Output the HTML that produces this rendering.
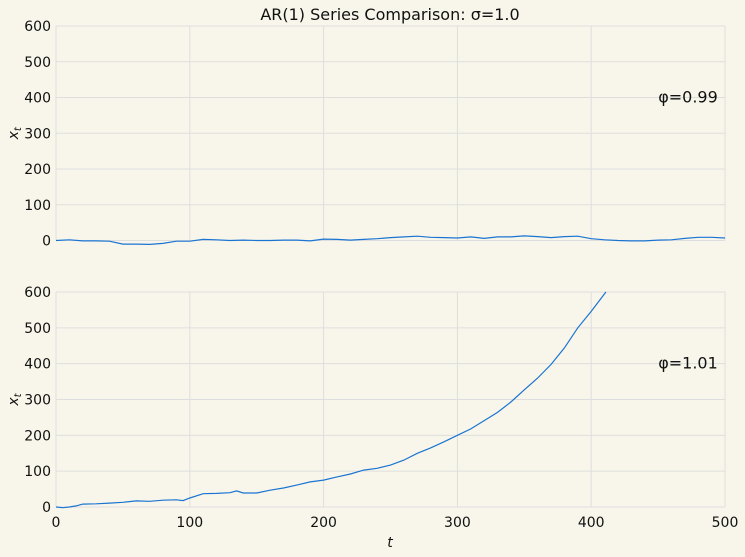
<!DOCTYPE html>
<html><head><meta charset="utf-8"><style>
html,body{margin:0;padding:0;background:#f8f6ea;}
svg{display:block;font-family:"DejaVu Sans","Liberation Sans",sans-serif;}
</style></head><body>
<svg id="chart" width="745" height="557" xmlns="http://www.w3.org/2000/svg">
<rect width="745" height="557" fill="#f8f6ea"/>
<text x="390" y="20" font-size="16" text-anchor="middle" fill="#111">AR(1) Series Comparison: σ=1.0</text>
<g id="top"></g>
<g id="bottom"></g>
<text x="390" y="547" font-size="14" font-style="italic" text-anchor="middle" fill="#111">t</text>
</svg>
<script>
const tValues=[0,10,20,30,40,50,60,70,80,90,100,110,120,130,140,150,160,170,180,190,200,210,220,230,240,250,260,270,280,290,300,310,320,330,340,350,360,370,380,390,400,410,420,430,440,450,460,470,480,490,500];
const seriesTop=[0,2,-1,-1,-2,-10,-10,-11,-8,-2,-2,3,2,0,1,0,0,1,1,-1,4,3,1,3,5,8,10,12,9,8,7,10,6,10,10,13,11,8,11,12,5,2,0,-1,-1,1,2,6,9,9,7];
const tBottom=[0,5,10,15,20,30,40,50,60,70,80,90,95,100,110,120,130,135,140,150,160,170,180,190,200,210,220,230,240,250,260,270,280,290,300,310,320,330,340,350,360,370,380,390,400,411];
const seriesBottom=[0,-2,0,3,8,9,11,13,17,16,19,20,18,25,37,38,40,45,39,39,47,53,61,70,75,84,92,103,108,117,131,150,165,182,200,218,241,264,293,327,360,398,444,500,546,600];
const xTicks=[0,100,200,300,400,500];
const yTicks=[0,100,200,300,400,500,600];
const NS="http://www.w3.org/2000/svg";
const X0=56,X1=725;
function xs(t){return X0+(t/500)*(X1-X0);}
function mk(tag,attrs,parent){const e=document.createElementNS(NS,tag);for(const k in attrs)e.setAttribute(k,attrs[k]);parent.appendChild(e);return e;}
function panel(g,yTop,yBot,ts,vals,label,showX,name){
  const ys=v=>yBot-(v/600)*(yBot-yTop);
  xTicks.forEach(t=>{const l=mk('line',{x1:xs(t),x2:xs(t),y1:yTop,y2:yBot,stroke:'#dedede','stroke-width':1},g);
    
    
    if(showX){const tx=mk('text',{x:xs(t),y:yBot+20,'font-size':14,'text-anchor':'middle',fill:'#111'},g);tx.textContent=t;
      
      }
  });
  yTicks.forEach(v=>{const l=mk('line',{x1:X0,x2:X1,y1:ys(v),y2:ys(v),stroke:'#dedede','stroke-width':1},g);
    
    
    const tx=mk('text',{x:X0-5,y:ys(v)+5,'font-size':14,'text-anchor':'end',fill:'#111'},g);tx.textContent=v;
    
    
  });
  const d=ts.map((t,i)=>(i?'L':'M')+xs(t).toFixed(1)+','+ys(vals[i]).toFixed(1)).join('');
  const p=mk('path',{d:d,fill:'none',stroke:'#1a74d2','stroke-width':1.2},g);
  
  
  const lb=mk('text',{x:688,y:ys(400)+5,'font-size':16,'text-anchor':'middle',fill:'#111'},g);lb.textContent=label;
  
  
  const yl=mk('text',{transform:`translate(18,${(yTop+yBot)/2}) rotate(-90)`,'font-size':14,'text-anchor':'middle',fill:'#111','font-style':'italic'},g);
  yl.innerHTML='x<tspan font-size="10" dy="3">t</tspan>';
  
  
}
panel(document.getElementById('top'),26,240.5,tValues,seriesTop,'φ=0.99',false,'phi-099');
panel(document.getElementById('bottom'),292,507,tBottom,seriesBottom,'φ=1.01',true,'phi-101');
</script>
</body></html>
